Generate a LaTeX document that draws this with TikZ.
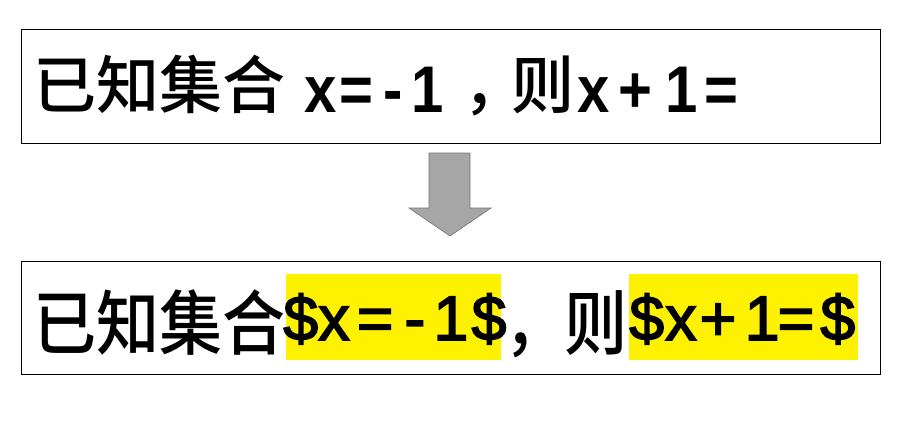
\documentclass[tikz,border=0pt]{standalone}
\usepackage{fontspec}
\newfontfamily\cjk{Noto Sans CJK SC}[UprightFont=* Medium]
\newfontfamily\lat{Liberation Sans}[UprightFont=* Bold, FakeStretch=0.88]
\newfontfamily\latn{Liberation Sans}[FakeBold=2.5]
\tikzset{
  box/.style={draw=black, line width=1.2pt, inner sep=0pt, anchor=north west},
  txt/.style={inner sep=0pt, anchor=base west, font=\fontsize{63}{63}\selectfont},
  ltxt/.style={inner sep=0pt, anchor=base west, font=\fontsize{66}{66}\selectfont\lat},
  ntxt/.style={inner sep=0pt, anchor=base west, font=\fontsize{63}{63}\selectfont\latn},
  hl/.style={fill=yellow, inner sep=0pt, anchor=north west},
  bigarrow/.style={fill=gray!70, draw=gray!90!black, line width=0.6pt}
}
\newcommand{\tall}[1]{\scalebox{1}[1.12]{#1}}
\begin{document}
\begin{tikzpicture}[x=1pt,y=-1pt]
\useasboundingbox (0,0) rectangle (900,436);
% boxes
\node[box, minimum width=859pt, minimum height=114pt] (top) at (21,29) {};
\node[box, minimum width=859pt, minimum height=113pt] (bot) at (21,261) {};
% top line
\node[txt] (t1) at (33,108) {\cjk 已知集合};
\node[ltxt] (t2) at (304,112) {x\kern3pt=\kern10pt-\kern9pt1};
\node[txt] (t3) at (463,108) {\cjk ，};
\node[txt] (t4) at (511,108) {\cjk 则};
\node[ltxt] (t5) at (577,112) {x\kern9pt+\kern13pt1\kern7pt=};
% bottom highlights
\node[hl, minimum width=215pt, minimum height=86pt] (h1) at (286,274) {};
\node[hl, minimum width=229pt, minimum height=86pt] (h2) at (629,274) {};
% bottom line
\node[txt] (b1) at (33,349) {\tall{\cjk 已知集合}};
\node[ntxt] (b2) at (283,340) {\$x\kern7pt=\kern11pt-\kern8pt1\kern3pt\$};
\node[txt] (b3) at (504,349) {\tall{\cjk ，}};
\node[txt] (b4) at (564,349) {\tall{\cjk 则}};
\node[ntxt] (b5) at (629,340) {\$\kern1pt x\kern3pt+\kern8pt1\kern-2pt=\kern6pt\$};
% block arrow between the boxes
\draw[bigarrow] (429,153) -- (470,153) -- (470,208) -- (491,208) -- (450,236) -- (409,208) -- (429,208) -- cycle;
\end{tikzpicture}
\end{document}
